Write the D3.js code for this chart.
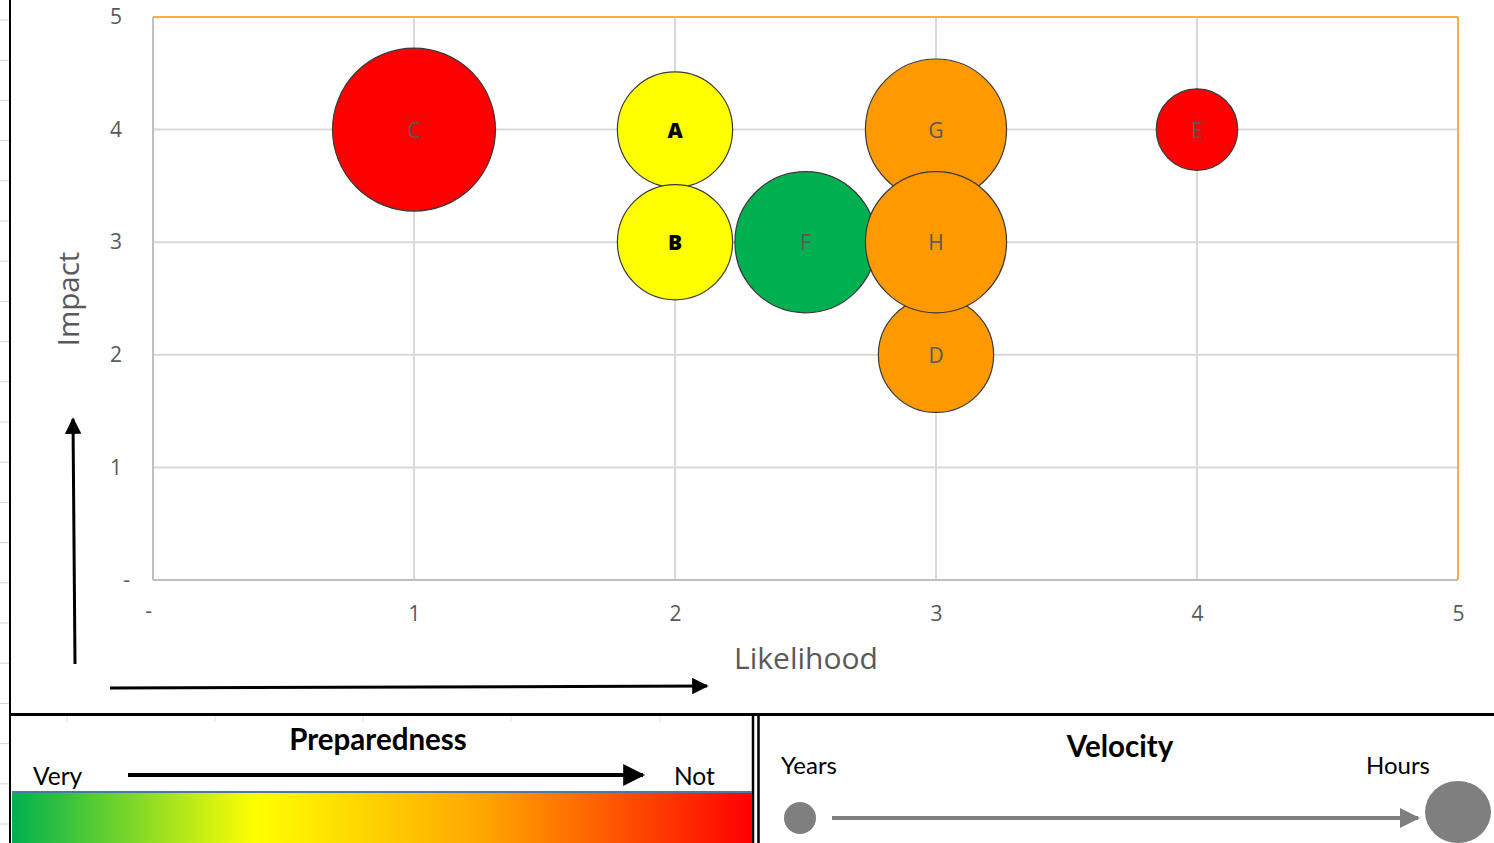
<!DOCTYPE html>
<html>
<head>
<meta charset="utf-8">
<script src="https://cdn.jsdelivr.net/npm/d3@7/dist/d3.min.js"></script>
<style>
  html, body { margin: 0; padding: 0; background: #fff; }
  svg { display: block; }
</style>
</head>
<body>
<svg id="chart" width="1494" height="843"></svg>
<script>
// Risk register: one bubble per risk
const riskNames   = ["C", "A", "B", "F", "G", "D", "H", "E"];
const likelihood  = [1, 2, 2, 2.5, 3, 3, 3, 4];
const impact      = [4, 4, 3, 3, 4, 2, 3, 4];
const velocity    = [4, 2, 2, 3, 3, 2, 3, 1];          // bubble size
const preparedness = ["red", "yellow", "yellow", "green", "orange", "orange", "orange", "red"];
const boldLabel   = [false, true, true, false, false, false, false, false];

const xTicks = [0, 1, 2, 3, 4, 5];
const yTicks = [0, 1, 2, 3, 4, 5];

const prepColors = { green: "#00B050", yellow: "#FFFF00", orange: "#FF9900", red: "#FF0000" };

const svg = d3.select("#chart");
const W = 1494, H = 843;

// sheet backdrop: faint cell borders along the left edge
const cellRows = d3.range(20, 843, 40.2);
svg.append("g").selectAll("line").data(cellRows).join("line")
  .attr("x1", 0).attr("x2", 9).attr("y1", d => d).attr("y2", d => d)
  .attr("stroke", "#d4d4d4").attr("stroke-width", 1);
svg.append("line").attr("x1", 10).attr("x2", 10).attr("y1", 0).attr("y2", H)
  .attr("stroke", "#000").attr("stroke-width", 2);

// ---- bubble chart ----
const plot = { left: 153, right: 1458, top: 17, bottom: 580 };
const x = d3.scaleLinear().domain([0, 5]).range([plot.left, plot.right]);
const y = d3.scaleLinear().domain([0, 5]).range([plot.bottom, plot.top]);
const r = d3.scaleSqrt().domain([0, 4]).range([0, 81.5]);

const grid = svg.append("g");
grid.selectAll("line.v").data(xTicks.slice(1, -1)).join("line")
  .attr("x1", d => x(d)).attr("x2", d => x(d))
  .attr("y1", plot.top).attr("y2", plot.bottom)
  .attr("stroke", "#d9d9d9").attr("stroke-width", 2);
grid.selectAll("line.h").data(yTicks.slice(1, -1)).join("line")
  .attr("x1", plot.left).attr("x2", plot.right)
  .attr("y1", d => y(d)).attr("y2", d => y(d))
  .attr("stroke", "#d9d9d9").attr("stroke-width", 2);

// plot frame: grey axes, orange top/right
svg.append("line").attr("x1", plot.left).attr("x2", plot.right).attr("y1", plot.top).attr("y2", plot.top)
  .attr("stroke", "#F5B041").attr("stroke-width", 2);
svg.append("line").attr("x1", plot.right).attr("x2", plot.right).attr("y1", plot.top).attr("y2", plot.bottom)
  .attr("stroke", "#F5B041").attr("stroke-width", 2);
svg.append("line").attr("x1", plot.left).attr("x2", plot.left).attr("y1", plot.top).attr("y2", plot.bottom)
  .attr("stroke", "#bfbfbf").attr("stroke-width", 2);
svg.append("line").attr("x1", plot.left).attr("x2", plot.right).attr("y1", plot.bottom).attr("y2", plot.bottom)
  .attr("stroke", "#bfbfbf").attr("stroke-width", 2);

const fmt = d => d === 0 ? "-" : String(d);

// axis tick labels via d3 axes, with lines hidden
const xAxis = svg.append("g").attr("transform", `translate(0,${plot.bottom})`)
  .call(d3.axisBottom(x).tickValues(xTicks).tickFormat(fmt).tickSize(0).tickPadding(26));
const yAxis = svg.append("g").attr("transform", `translate(${plot.left},0)`)
  .call(d3.axisLeft(y).tickValues(yTicks).tickFormat(fmt).tickSize(0).tickPadding(31));
[xAxis, yAxis].forEach(a => {
  a.select(".domain").remove();
  a.selectAll("text").attr("font-family", "'Open Sans', sans-serif")
    .attr("font-size", 21).attr("fill", "#595959");
});
xAxis.selectAll(".tick").filter(d => d === 0).select("text").attr("dx", -5).attr("dy", "0.55em");
yAxis.selectAll(".tick").filter(d => d === 0).select("text").attr("dx", 8);

// axis titles
svg.append("text").attr("x", 806).attr("y", 669).attr("text-anchor", "middle")
  .attr("font-family", "'Open Sans', sans-serif").attr("font-size", 30).attr("fill", "#595959")
  .text("Likelihood");
svg.append("text").attr("transform", "translate(79,299) rotate(-90)").attr("text-anchor", "middle")
  .attr("font-family", "'Open Sans', sans-serif").attr("font-size", 29.5).attr("fill", "#595959")
  .text("Impact");

// bubbles
const risks = riskNames.map((n, i) => ({
  name: n, lx: likelihood[i], iy: impact[i], size: velocity[i], prep: preparedness[i], bold: boldLabel[i]
}));
const bub = svg.append("g").selectAll("g").data(risks).join("g");
bub.append("circle")
  .attr("cx", d => x(d.lx)).attr("cy", d => y(d.iy)).attr("r", d => r(d.size))
  .attr("fill", d => prepColors[d.prep]).attr("stroke", "#3a3a3a").attr("stroke-width", 1.2);
bub.append("text")
  .attr("x", d => x(d.lx)).attr("y", d => y(d.iy) + 8).attr("text-anchor", "middle")
  .attr("font-family", "'Open Sans', sans-serif").attr("font-size", 21)
  .attr("font-weight", d => d.bold ? 800 : 400)
  .attr("fill", d => d.bold ? "#000" : "#595959")
  .text(d => d.name);

// black direction arrows beside the axes
const defs = svg.append("defs");
defs.append("marker").attr("id", "blackHead").attr("viewBox", "0 0 10 10")
  .attr("refX", 9).attr("refY", 5).attr("markerWidth", 5.5).attr("markerHeight", 5.5)
  .attr("markerUnits", "strokeWidth").attr("orient", "auto")
  .append("path").attr("d", "M0,0 L10,5 L0,10 Z").attr("fill", "#000");
defs.append("marker").attr("id", "greyHead").attr("viewBox", "0 0 10 10")
  .attr("refX", 9).attr("refY", 5).attr("markerWidth", 5).attr("markerHeight", 5)
  .attr("markerUnits", "strokeWidth").attr("orient", "auto")
  .append("path").attr("d", "M0,0 L10,5 L0,10 Z").attr("fill", "#7f7f7f");

svg.append("line").attr("x1", 75).attr("y1", 664).attr("x2", 73).attr("y2", 419)
  .attr("stroke", "#000").attr("stroke-width", 3).attr("marker-end", "url(#blackHead)");
svg.append("line").attr("x1", 110).attr("y1", 688).attr("x2", 707).attr("y2", 686)
  .attr("stroke", "#000").attr("stroke-width", 3).attr("marker-end", "url(#blackHead)");

// ---- legend panels ----
svg.append("line").attr("x1", 10).attr("x2", W).attr("y1", 714.5).attr("y2", 714.5)
  .attr("stroke", "#000").attr("stroke-width", 3);
svg.append("line").attr("x1", 753).attr("x2", 753).attr("y1", 714).attr("y2", H)
  .attr("stroke", "#000").attr("stroke-width", 2.5);
svg.append("line").attr("x1", 758.5).attr("x2", 758.5).attr("y1", 714).attr("y2", H)
  .attr("stroke", "#000").attr("stroke-width", 2.5);
// faint cell borders in the preparedness panel
svg.append("g").selectAll("line").data([67, 215, 363, 511, 660]).join("line")
  .attr("x1", d => d).attr("x2", d => d).attr("y1", 716).attr("y2", 722)
  .attr("stroke", "#e0e0e0");

const legendFont = "Lato, 'Open Sans', sans-serif";

// Preparedness scale
svg.append("text").attr("x", 378).attr("y", 750).attr("text-anchor", "middle")
  .attr("font-family", legendFont).attr("font-weight", 700).attr("font-size", 29.5).attr("fill", "#000")
  .text("Preparedness");
svg.append("text").attr("x", 33).attr("y", 785)
  .attr("font-family", legendFont).attr("font-size", 24.5).attr("fill", "#000").text("Very");
svg.append("text").attr("x", 674).attr("y", 785)
  .attr("font-family", legendFont).attr("font-size", 24.5).attr("fill", "#000").text("Not");
svg.append("line").attr("x1", 128).attr("y1", 775).attr("x2", 643).attr("y2", 775)
  .attr("stroke", "#000").attr("stroke-width", 4).attr("marker-end", "url(#blackHead)");

const gradStops = [
  { offset: 0, color: "#00B050" },
  { offset: 0.33, color: "#FFFF00" },
  { offset: 0.64, color: "#FFA500" },
  { offset: 0.85, color: "#FF4500" },
  { offset: 1, color: "#FF0000" }
];
const grad = defs.append("linearGradient").attr("id", "prepGrad").attr("x1", "0%").attr("x2", "100%");
grad.selectAll("stop").data(gradStops).join("stop")
  .attr("offset", d => d.offset).attr("stop-color", d => d.color);
svg.append("rect").attr("x", 12).attr("y", 792).attr("width", 740).attr("height", 51)
  .attr("fill", "url(#prepGrad)");
svg.append("line").attr("x1", 12).attr("x2", 752).attr("y1", 792).attr("y2", 792)
  .attr("stroke", "#4F74A8").attr("stroke-width", 2);

// Velocity scale
svg.append("text").attr("x", 1120).attr("y", 757).attr("text-anchor", "middle")
  .attr("font-family", legendFont).attr("font-weight", 700).attr("font-size", 29.5).attr("fill", "#000")
  .text("Velocity");
svg.append("text").attr("x", 781).attr("y", 774)
  .attr("font-family", legendFont).attr("font-size", 24).attr("fill", "#000").text("Years");
svg.append("text").attr("x", 1366).attr("y", 774)
  .attr("font-family", legendFont).attr("font-size", 24).attr("fill", "#000").text("Hours");
svg.append("ellipse").attr("cx", 800).attr("cy", 818).attr("rx", 16).attr("ry", 16).attr("fill", "#7f7f7f");
svg.append("ellipse").attr("cx", 1458).attr("cy", 812).attr("rx", 33).attr("ry", 31).attr("fill", "#7f7f7f");
svg.append("line").attr("x1", 832).attr("y1", 818).attr("x2", 1418).attr("y2", 818)
  .attr("stroke", "#7f7f7f").attr("stroke-width", 4).attr("marker-end", "url(#greyHead)");
</script>
</body>
</html>
